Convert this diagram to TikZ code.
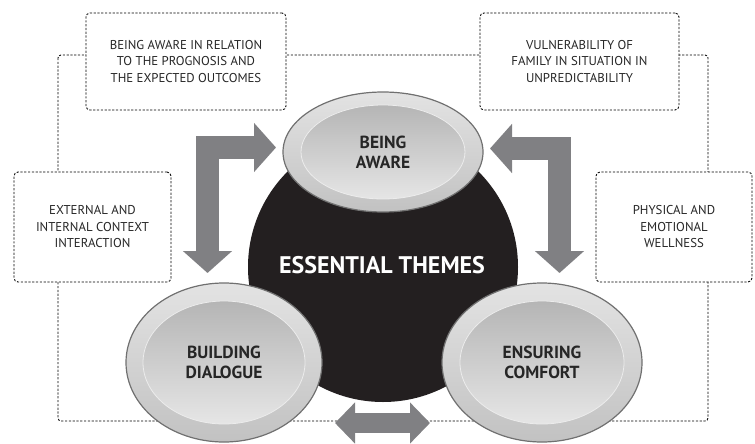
\documentclass[tikz,border=0pt]{standalone}
\usepackage{fontspec}
\setmainfont{PT Sans}
\usetikzlibrary{shapes.geometric,arrows.meta,positioning}
\definecolor{arrowgray}{RGB}{128,128,131}
\definecolor{ringedge}{RGB}{112,112,112}
\definecolor{themeblack}{RGB}{35,31,32}

\begin{document}
\begin{tikzpicture}[x=1pt,y=-1pt,
    framebox/.style={draw=black, line width=0.85pt, dash pattern=on 2.2pt off 1.6pt},
    notebox/.style={framebox, rounded corners=4pt, fill=white, align=center, inner sep=0pt,
        font=\fontsize{12.8}{16.5}\selectfont, text=black!85},
    ring/.style={ellipse, draw=ringedge, line width=1.2pt, top color=gray!22, bottom color=gray!48, inner sep=0pt},
    core/.style={ellipse, draw=gray!15, line width=0.8pt, top color=gray!58, bottom color=gray!20,
        inner sep=0pt, align=center, font=\bfseries\fontsize{17.5}{20}\selectfont, text=black!85},
    bigarrow/.style={draw=arrowgray, line width=23pt,
        {Triangle[length=22pt,width=48pt]}-{Triangle[length=22pt,width=48pt]}},
  ]
  \useasboundingbox (0,0) rectangle (755,444);

  % dashed frame behind everything
  \draw[framebox, rounded corners=3pt] (58,55) rectangle (708,421);

  % the four notes
  \node[notebox, minimum width=200pt, minimum height=97pt] (prognosis) at (186,61.5)
      {BEING AWARE IN RELATION\\TO THE PROGNOSIS AND\\THE EXPECTED OUTCOMES};
  \node[notebox, minimum width=199pt, minimum height=97pt] (family) at (579.5,61.5)
      {VULNERABILITY OF\\FAMILY IN SITUATION IN\\UNPREDICTABILITY};
  \node[notebox, minimum width=157pt, minimum height=110pt] (context) at (92.5,227)
      {EXTERNAL AND\\INTERNAL CONTEXT\\INTERACTION};
  \node[notebox, minimum width=156pt, minimum height=110pt] (wellness) at (674,227)
      {PHYSICAL AND\\EMOTIONAL\\WELLNESS};

  % black circle
  \node[circle, fill=themeblack, minimum size=270pt, inner sep=0pt] (themes) at (383,267) {};
  \node[text=white, font=\bfseries\fontsize{24}{26}\selectfont] (themestext) at (382,265) {ESSENTIAL THEMES};

  % L-shaped arrows
  \coordinate (dlgtip) at (207.5,273);
  \coordinate (awltip) at (276,147.5);
  \coordinate (cmftip) at (559.5,273);
  \coordinate (awrtip) at (490,148.5);
  \draw[bigarrow] (dlgtip) |- (awltip);
  \draw[bigarrow] (cmftip) |- (awrtip);

  % bottom double arrow
  \coordinate (lowl) at (335,423);
  \coordinate (lowr) at (430,423);
  \draw[draw=arrowgray, line width=20pt,
        {Triangle[length=20pt,width=40pt]}-{Triangle[length=20pt,width=40pt]}] (lowl) -- (lowr);

  % the three themes
  \node[ring, minimum width=200pt, minimum height=120pt] (aware) at (383,152) {};
  \node[core, minimum width=164pt, minimum height=94pt] (awarein) at (aware.center) {BEING\\AWARE};
  \node[ring, minimum width=196pt, minimum height=159pt] (dialogue) at (224,362.5) {};
  \node[core, minimum width=162pt, minimum height=123pt] (dialoguein) at (dialogue.center) {BUILDING\\DIALOGUE};
  \node[ring, minimum width=200pt, minimum height=159pt] (comfort) at (542,362.5) {};
  \node[core, minimum width=164pt, minimum height=123pt] (comfortin) at (comfort.center) {ENSURING\\COMFORT};
\end{tikzpicture}
\end{document}
